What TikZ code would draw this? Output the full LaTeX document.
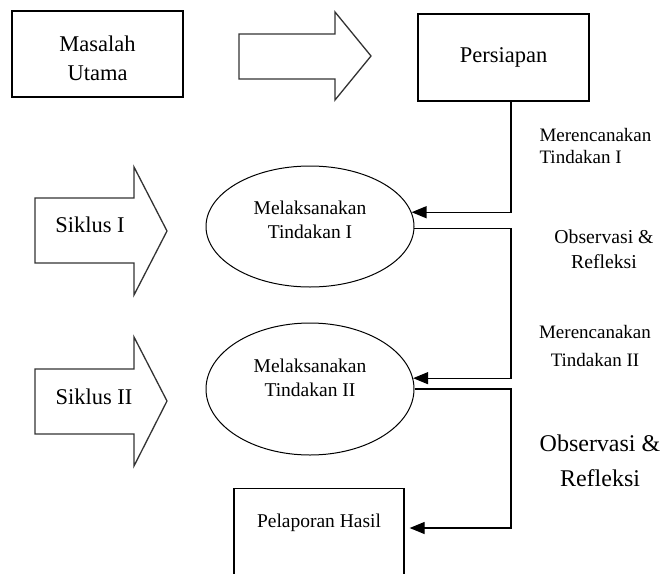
\documentclass[tikz,border=0pt]{standalone}
\usepackage{fontspec}
\setmainfont{Liberation Serif}
\newfontfamily\timesface{Liberation Serif}
\usetikzlibrary{shapes.geometric,arrows.meta}

\begin{document}
\begin{tikzpicture}[x=1pt,y=-1pt,
  box/.style={draw, line width=1.3pt, inner sep=0pt, align=center},
  oval/.style={draw, ellipse, line width=1pt, inner sep=0pt, minimum width=208pt},
  bigarrow/.style={draw=black!80, line width=1.3pt, fill=white, line join=miter},
  flow/.style={line width=1.3pt, -{Triangle[length=15pt,width=12pt]}},
  bigtxt/.style={font=\timesface\fontsize{22.5}{29}\selectfont, align=center},
  ovaltxt/.style={font=\timesface\fontsize{19.5}{24}\selectfont, align=center}]
  \clip (0,0) rectangle (663,573);
  \fill[white] (0,0) rectangle (663,573);
  \coordinate (rail) at (511,0);
  % top row
  \node[box, minimum width=171, minimum height=86] (masalah) at (97.5,54) {};
  \node[bigtxt] (masalahtxt) at ([yshift=-4pt]masalah.center) {Masalah\\Utama};
  \draw[bigarrow] (239,34) -- (335,34) -- (335,12) -- (371,56) -- (335,100) -- (335,79) -- (239,79) -- cycle;
  \node[box, bigtxt, minimum width=171, minimum height=87] (persiapan) at (503.5,57.5) {Persiapan};
  % cycles
  \draw[bigarrow] (35,198) -- (134,198) -- (134,167) -- (167,231) -- (134,295) -- (134,263) -- (35,263) -- cycle;
  \node[bigtxt] (siklus1) at (90,225) {Siklus I};
  \node[oval, minimum height=121] (lak1) at (310,226.5) {};
  \node[ovaltxt] (lak1txt) at ([yshift=6.5pt]lak1.center) {Melaksanakan\\Tindakan I};
  \draw[bigarrow] (35,369) -- (134,369) -- (134,337) -- (167,401) -- (134,466) -- (134,434) -- (35,434) -- cycle;
  \node[bigtxt] (siklus2) at (94,397) {Siklus II};
  \node[oval, minimum height=132] (lak2) at (310,389) {};
  \node[ovaltxt] (lak2txt) at ([yshift=11pt]lak2.center) {Melaksanakan\\Tindakan II};
  % report
  \node[box, minimum width=170, minimum height=120, anchor=north] (lapor) at (319,488) {};
  \node[ovaltxt] (laportxt) at (319,523) {Pelaporan Hasil};
  % connectors
  \draw[flow] (persiapan.south -| rail) |- (lak1.8);
  \draw[flow] (lak1.-1) -- (lak1.-1 -| rail) |- (lak2.6);
  \draw[flow] (lak2.east) -- (lak2.east -| rail) |- ([xshift=5pt,yshift=-40pt]lapor.north east);
  % step labels
  \node[anchor=west, align=left, font=\timesface\fontsize{19}{22}\selectfont] (rencana1) at (536,146) {Merencanakan\\Tindakan I};
  \node[align=center, font=\timesface\fontsize{19.7}{25}\selectfont] (refleksi1) at (604,249.5) {Observasi \&\\Refleksi};
  \node[align=center, font=\timesface\fontsize{19}{28}\selectfont] (rencana2) at (595,346) {Merencanakan\\Tindakan II};
  \node[align=center, font=\timesface\fontsize{24}{35}\selectfont] (refleksi2) at (600,460.5) {Observasi \&\\Refleksi};
\end{tikzpicture}
\end{document}
